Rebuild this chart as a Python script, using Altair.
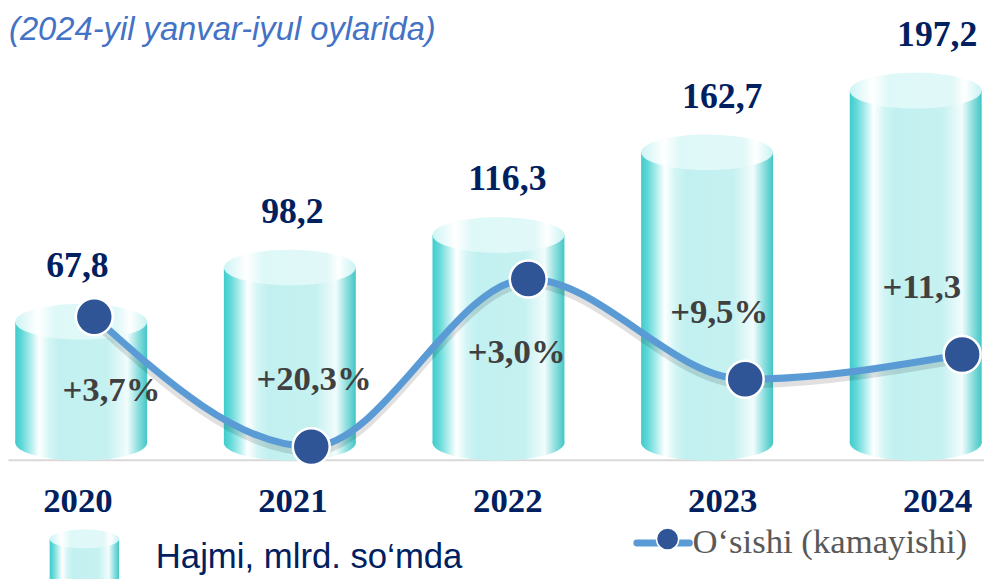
import altair as alt
import pandas as pd

# ---------------- data ----------------
years = [2020, 2021, 2022, 2023, 2024]
hajm = [67.8, 98.2, 116.3, 162.7, 197.2]                 # Hajmi, mlrd. so'mda
osish_text = ["+3,7%", "+20,3%", "+3,0%", "+9,5%", "+11,3"]  # growth labels
osish_level = [31.8, 2.9, 40.2, 17.9, 23.4]              # line marker level
below_years = [2020, 2022]                               # growth labels drawn under the marker

title_text = "(2024-yil yanvar-iyul oylarida)"
legend_bar = "Hajmi, mlrd. so\u2018mda"
legend_line = "O\u2018sishi (kamayishi)"

df = pd.DataFrame({"yil": years, "hajm": hajm, "osish": osish_text, "level": osish_level})

# ---------------- styles ----------------
W, H = 984, 453


def grad(stops):
    return alt.LinearGradient(
        gradient="linear",
        stops=[alt.GradientStop(color=c, offset=o) for o, c in stops],
        x1=0, x2=1, y1=0, y2=0,
    )


body_grad = grad([(0, "#3fcccc"), (0.05, "#62d8d8"), (0.12, "#b2eeee"), (0.18, "#ffffff"),
                  (0.26, "#d2f5f5"), (0.34, "#c2f0f0"), (0.70, "#c6f1f1"), (0.85, "#f2fcfc"),
                  (0.93, "#8fdfdf"), (1, "#42c6c6")])
top_grad = grad([(0, "#cdf4f4"), (0.17, "#ffffff"), (0.3, "#def8f8"), (0.78, "#e2f8f8"),
                 (0.87, "#ffffff"), (1, "#c8f2f2")])

ELLIPSE = ("M-1,0C-1,-0.149,-0.5523,-0.27,0,-0.27C0.5523,-0.27,1,-0.149,1,0"
           "C1,0.149,0.5523,0.27,0,0.27C-0.5523,0.27,-1,0.149,-1,0Z")

vol_y = alt.Scale(domain=[-9.44, 242.2], nice=False, zero=False)
lvl_y = alt.Scale(domain=[0, 100], nice=False, zero=False)
cyl_x = alt.Scale(domain=[2019.6729, 2024.3035], nice=False, zero=False)
lab_x = alt.Scale(domain=[2019.677, 2024.2178], nice=False, zero=False)
line_x = alt.Scale(domain=[2019.6023, 2024.1006], nice=False, zero=False)
pct_x = alt.Scale(domain=[2019.4893, 2024.3069], nice=False, zero=False)

base = alt.Chart(df)

# ---------------- cylinders ----------------
cyl_bottom = base.transform_calculate(base0="0").mark_point(
    shape=ELLIPSE, size=17689, filled=True, fill=body_grad, opacity=1, strokeWidth=0
).encode(
    x=alt.X("yil:Q", scale=cyl_x, axis=None),
    y=alt.Y("base0:Q", scale=vol_y, axis=None),
)
cyl_body = base.transform_calculate(base0="0").mark_bar(
    size=133, fill=body_grad, strokeWidth=0
).encode(
    x=alt.X("yil:Q", scale=cyl_x, axis=None),
    y=alt.Y("hajm:Q", scale=vol_y, axis=None),
    y2="base0:Q",
)
cyl_top = base.mark_point(
    shape=ELLIPSE, size=17689, filled=True, fill=top_grad, opacity=1, strokeWidth=0
).encode(
    x=alt.X("yil:Q", scale=cyl_x, axis=None),
    y=alt.Y("hajm:Q", scale=vol_y, axis=None),
)
cylinders = alt.layer(cyl_bottom, cyl_body, cyl_top)

# ---------------- value labels + year axis ----------------
value_labels = base.transform_calculate(
    lbl="replace(format(datum.hajm, '.1f'), '.', ',')"
).mark_text(
    font="Liberation Serif", fontWeight="bold", fontSize=36, color="#002060",
    dy=-45, baseline="alphabetic", align="center"
).encode(
    x=alt.X("yil:Q", scale=lab_x, axis=alt.Axis(
        values=years, format="d", title=None, grid=False, ticks=False, tickSize=0,
        labelPadding=24, labelFont="Liberation Serif", labelFontWeight="bold",
        labelFontSize=35, labelColor="#002060", labelFlush=False, labelOverlap=False,
        domainColor="#d9d9d9", domainWidth=2)),
    y=alt.Y("hajm:Q", scale=vol_y, axis=None),
    text="lbl:N",
)

# ---------------- growth line ----------------
line_enc = dict(
    x=alt.X("yil:Q", scale=line_x, axis=None),
    y=alt.Y("level:Q", scale=lvl_y, axis=None),
)
line_shadow = base.mark_line(
    interpolate="monotone", strokeWidth=10, color="#000000", opacity=0.12, yOffset=4,
    strokeCap="round"
).encode(**line_enc)
line = base.mark_line(
    interpolate="monotone", strokeWidth=7, color="#5B9BD5", strokeCap="round"
).encode(**line_enc)
points = base.mark_circle(
    size=1385, color="#2F5597", stroke="white", strokeWidth=2.5, opacity=1
).encode(**line_enc)
growth_line = alt.layer(line_shadow, line, points)

# ---------------- growth labels ----------------
pct_enc = dict(
    x=alt.X("yil:Q", scale=pct_x, axis=None),
    y=alt.Y("level:Q", scale=lvl_y, axis=None),
    text="osish:N",
)
pct_style = dict(font="Liberation Serif", fontWeight="bold", fontSize=35, color="#404040",
                 baseline="alphabetic", align="center")
pct_below = base.transform_filter(
    alt.FieldOneOfPredicate(field="yil", oneOf=below_years)
).mark_text(dy=85, **pct_style).encode(**pct_enc)
pct_above = base.transform_filter(
    ~alt.FieldOneOfPredicate(field="yil", oneOf=below_years)
).mark_text(dy=-57, **pct_style).encode(**pct_enc)
pct_labels = alt.layer(pct_below, pct_above)

# ---------------- title & legend ----------------
title = alt.Chart(pd.DataFrame({"t": [title_text]})).mark_text(
    font="Liberation Sans", fontStyle="italic", fontSize=33, color="#4472C4",
    align="left", baseline="alphabetic"
).encode(x=alt.value(1), y=alt.value(30), text="t:N")

one = pd.DataFrame({"t": [legend_bar]})
leg_body = alt.Chart(one).mark_rect(fill=body_grad, strokeWidth=0).encode(
    x=alt.value(42), x2=alt.value(112), y=alt.value(533), y2=alt.value(600))
leg_top = alt.Chart(one).mark_point(
    shape=ELLIPSE, size=4900, filled=True, fill=top_grad, opacity=1, strokeWidth=0
).encode(x=alt.value(77), y=alt.value(533))
leg_text1 = alt.Chart(one).mark_text(
    font="Liberation Sans", fontSize=35, color="#002060", align="left", baseline="alphabetic"
).encode(x=alt.value(149), y=alt.value(562), text="t:N")

two = pd.DataFrame({"t": [legend_line]})
leg_line = alt.Chart(two).mark_rule(color="#5B9BD5", strokeWidth=7, strokeCap="round").encode(
    x=alt.value(634), x2=alt.value(687), y=alt.value(537))
leg_dot = alt.Chart(two).mark_circle(
    size=500, color="#2F5597", stroke="white", strokeWidth=1.5, opacity=1
).encode(x=alt.value(665), y=alt.value(533))
leg_text2 = alt.Chart(two).mark_text(
    font="Liberation Serif", fontSize=35, color="#595959", align="left", baseline="alphabetic"
).encode(x=alt.value(690), y=alt.value(547), text="t:N")

chart = alt.layer(
    cylinders, value_labels, growth_line, pct_labels,
    title, leg_body, leg_top, leg_text1, leg_line, leg_dot, leg_text2,
).resolve_scale(
    x="independent", y="independent"
).properties(
    width=W, height=H,
    autosize=alt.AutoSizeParams(type="none"),
    padding={"left": 0, "top": 0, "right": 0, "bottom": 118},
    background="white",
).configure_view(stroke=None)

chart.save("out.html", embed_options={"renderer": "svg", "actions": False})
